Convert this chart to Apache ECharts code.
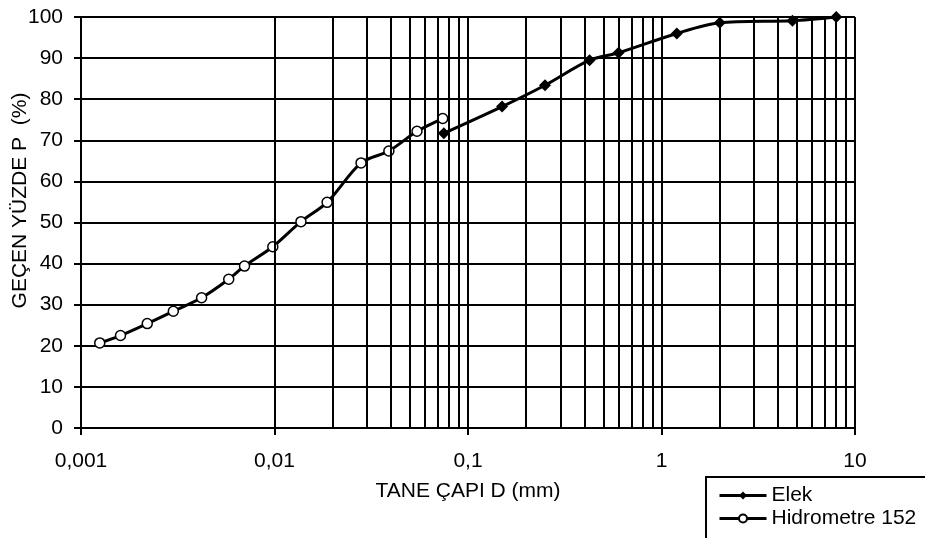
<!DOCTYPE html>
<html>
<head>
<meta charset="utf-8">
<script src="https://cdn.jsdelivr.net/npm/echarts@6/dist/echarts.min.js"></script>
<style>
  html, body { margin: 0; padding: 0; background: #fff; }
  #chart { width: 925px; height: 538px; }
</style>
</head>
<body>
<div id="chart"></div>
<script>
// hidrometre (D mm, gecen %)
var hydroD = [0.00125, 0.0016, 0.0022, 0.0030, 0.0042, 0.0058, 0.0070, 0.0098, 0.0137, 0.0187, 0.028, 0.039, 0.0545, 0.074];
var hydroP = [20.7, 22.5, 25.4, 28.4, 31.7, 36.2, 39.4, 44.1, 50.2, 54.9, 64.5, 67.4, 72.2, 75.3];
// elek analizi
var elekD = [0.075, 0.15, 0.25, 0.425, 0.6, 1.2, 2, 4.75, 8];
var elekP = [71.7, 78.2, 83.4, 89.5, 91.3, 96.0, 98.6, 99.1, 100];

var seriesNames = ['Elek', 'Hidrometre 152'];
var xTitle = 'TANE ÇAPI D (mm)';
var yTitle = 'GEÇEN YÜZDE P  (%)';

var FONT = 'Liberation Sans, Arial, sans-serif';
var LW = 2;

// ara log cizgileri (2..9 her dekadda)
var minorLines = [];
[0.001, 0.01, 0.1, 1].forEach(function (dec) {
    for (var k = 2; k <= 9; k++) {
        minorLines.push({ xAxis: +(dec * k).toPrecision(3) });
    }
});

function pairs(xs, ys) {
    return xs.map(function (x, i) { return [x, ys[i]]; });
}

var myChart = echarts.init(document.getElementById('chart'));
var option = {
    animation: false,
    textStyle: { fontFamily: FONT, color: '#000' },
    grid: { left: 81, right: 70, top: 17, bottom: 110, outerBoundsMode: 'none', containLabel: false },
    legend: {
        left: 706,
        top: 477,
        height: 90,
        orient: 'vertical',
        data: seriesNames,
        itemWidth: 47,
        itemHeight: 10,
        itemGap: 2,
        padding: [8, 10, 20, 12],
        borderColor: '#000',
        borderWidth: 2,
        lineStyle: { width: 3, color: '#000' },
        textStyle: { fontFamily: FONT, fontSize: 21, color: '#000' }
    },
    xAxis: {
        type: 'log',
        logBase: 10,
        min: 0.001,
        max: 10,
        name: xTitle,
        nameLocation: 'middle',
        nameGap: 53,
        nameMoveOverlap: false,
        nameTextStyle: { fontFamily: FONT, fontSize: 21, color: '#000' },
        axisLine: { lineStyle: { color: '#000', width: LW } },
        axisTick: { show: true, length: 7, lineStyle: { color: '#000', width: LW } },
        axisLabel: {
            margin: 23,
            fontSize: 21,
            color: '#000',
            formatter: function (v) {
                return String(+(+v).toPrecision(3)).replace('.', ',');
            }
        },
        splitLine: { show: true, lineStyle: { color: '#000', width: LW } }
    },
    yAxis: {
        type: 'value',
        min: 0,
        max: 100,
        interval: 10,
        name: yTitle,
        nameLocation: 'middle',
        nameGap: 50,
        nameMoveOverlap: false,
        nameTextStyle: { fontFamily: FONT, fontSize: 21, color: '#000', padding: [0, 0, 0, 44] },
        axisLine: { show: true, lineStyle: { color: '#000', width: LW } },
        axisTick: { show: true, length: 7, lineStyle: { color: '#000', width: LW } },
        axisLabel: { margin: 18, fontSize: 21, color: '#000' },
        splitLine: { show: true, lineStyle: { color: '#000', width: LW } }
    },
    series: [
        {
            name: 'grid-minor',
            type: 'line',
            data: [],
            silent: true,
            markLine: {
                silent: true,
                symbol: 'none',
                label: { show: false },
                lineStyle: { color: '#000', width: LW, type: 'solid' },
                emphasis: { disabled: true },
                data: minorLines
            }
        },
        {
            name: seriesNames[0],
            type: 'line',
            data: pairs(elekD, elekP),
            smooth: 0.3,
            symbol: 'diamond',
            symbolSize: 12,
            z: 5,
            itemStyle: { color: '#000' },
            lineStyle: { color: '#000', width: 3 }
        },
        {
            name: seriesNames[1],
            type: 'line',
            data: pairs(hydroD, hydroP),
            smooth: 0.3,
            symbol: 'circle',
            symbolSize: 10,
            z: 4,
            itemStyle: { color: '#fff', borderColor: '#000', borderWidth: 1.5 },
            lineStyle: { color: '#000', width: 3 }
        }
    ]
};
myChart.setOption(option);
window.addEventListener('resize', function () {
    myChart.resize();
});
</script>
</body>
</html>
